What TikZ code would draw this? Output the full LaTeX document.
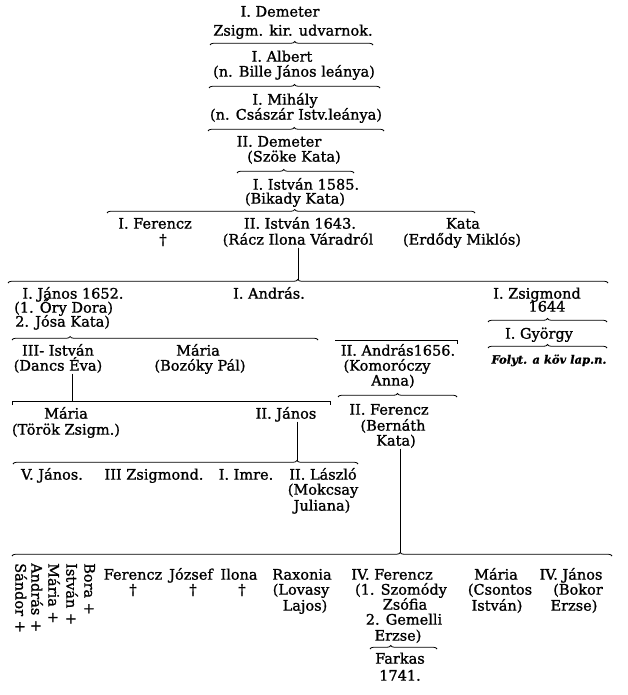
\documentclass[tikz,border=0pt]{standalone}
\usepackage{fontspec}
\setmainfont{DejaVu Serif}[FakeBold=1.2]
\usetikzlibrary{decorations.pathreplacing,calc}
\begin{document}
\begin{tikzpicture}[x=1pt,y=-1pt,
  every node/.style={inner sep=0pt, anchor=center, text height=10pt, text depth=2.7pt,
    font=\fontsize{14.5}{16}\selectfont},
  brc/.style={decorate, decoration={brace, amplitude=3.5pt, aspect=#1}, line width=0.8pt},
  ln/.style={line width=0.8pt},
  rot/.style={rotate=-90, anchor=west},
  note/.style={font=\fontsize{11.5}{13}\selectfont\bfseries\itshape}]
\useasboundingbox[fill=white] (0,0) rectangle (628,695);

% --- ancestors
\node (a1) at (280,13) {I. Demeter};
\node (a2) at (293,32) {Zsigm. kir. udvarnok.};
\coordinate (b1l) at (210,45); \coordinate (b1r) at (373,45);
\draw[brc=0.52] (b1l) -- (b1r);

\node (c1) at (282,58) {I. Albert};
\node (c2) at (294,73) {(n. Bille János leánya)};
\coordinate (b2l) at (209,88); \coordinate (b2r) at (380,88);
\draw[brc=0.50] (b2l) -- (b2r);

\node (d1) at (285,101) {I. Mihály};
\node (d2) at (296,116) {(n. Császár Istv.leánya)};
\coordinate (b3l) at (208,131); \coordinate (b3r) at (384,131);
\draw[brc=0.49] (b3l) -- (b3r);

\node (e1) at (279,143) {II. Demeter};
\node (e2) at (294,158) {(Szöke Kata)};
\coordinate (b4l) at (237,173); \coordinate (b4r) at (354,173);
\draw[brc=0.40] (b4l) -- (b4r);

\node (f1) at (306,186) {I. István 1585.};
\node (f2) at (295,200) {(Bikady Kata)};
\coordinate (b5l) at (107,213); \coordinate (b5r) at (475,213);
\draw[brc=0.51] (b5l) -- (b5r);

% --- children of I. István
\node (g1) at (155,225) {I. Ferencz};
\node (g2) at (163,241) {†};
\node (h1) at (300,225) {II. István 1643.};
\node (h2) at (298,241) {(Rácz Ilona Váradról};
\node (k1) at (463,225) {Kata};
\node (k2) at (462,241) {(Erdődy Miklós)};

\coordinate (b6l) at (8,283); \coordinate (b6r) at (608,283);
\coordinate (b6t) at (298,279.5);
\draw[ln] (h2.south) -- (b6t);
\draw[brc=0.483] (b6l) -- (b6r);

% --- children of II. István
\node (j1) at (73,295) {I. János 1652.};
\node[anchor=west] (j2) at (14,309) {(1. Őry Dora)};
\node[anchor=west] (j3) at (15,323) {2. Jósa Kata)};
\node (an1) at (269,295) {I. András.};
\node (z1) at (537,295) {I. Zsigmond};
\node (z2) at (547,308) {1644};
\coordinate (bzl) at (488,322); \coordinate (bzr) at (607,322);
\draw[brc=0.5] (bzl) -- (bzr);
\node (gy) at (539,335) {I. György};
\coordinate (bgl) at (488,348); \coordinate (bgr) at (607,348);
\draw[brc=0.5] (bgl) -- (bgr);
\node[note] (fo) at (549,360) {Folyt. a köv lap.n.};

% --- children of I. János
\coordinate (b7l) at (12,340); \coordinate (b7r) at (318,340);
\draw[brc=0.19] (b7l) -- (b7r);
\node (i1) at (58,352) {III- István};
\node (i2) at (58,367) {(Dancs Éva)};
\node (m1) at (198,352) {Mária};
\node (m2) at (200,367) {(Bozóky Pál)};

% --- II. András
\coordinate (lal) at (335,340); \coordinate (lar) at (457,340);
\draw[ln] (lal) -- (lar) -- ++(0,4);
\node (aa1) at (398,352) {II. András1656.};
\node (aa2) at (387,367) {(Komoróczy};
\node (aa3) at (393,382) {Anna)};
\coordinate (b8l) at (338,397); \coordinate (b8r) at (457,397);
\draw[brc=0.5] (b8l) -- (b8r);
\node (f21) at (389,411) {II. Ferencz};
\node (f22) at (393,427) {(Bernáth};
\node (f23) at (396,442) {Kata)};

% --- children of III. István
\coordinate (b9t) at (72,401);
\draw[ln] (i2.south -| b9t) -- (b9t);
\coordinate (b9l) at (12,401); \coordinate (b9r) at (330,401);
\draw[ln] ($(b9l)+(0,4)$) -- (b9l) -- (b9r) -- ++(0,4);
\node (mt1) at (66,415) {Mária};
\node (mt2) at (66,431) {(Török Zsigm.)};
\node (j21) at (286,415) {II. János};

% --- children of II. János
\coordinate (b10l) at (13,464); \coordinate (b10r) at (358,464);
\coordinate (b10t) at (297,460.5);
\draw[ln] (j21.south -| b10t) -- (b10t);
\draw[brc=0.823] (b10l) -- (b10r);
\node (v1) at (52,476) {V. János.};
\node (v2) at (154,476) {III Zsigmond.};
\node (v3) at (246,476) {I. Imre.};
\node (v4) at (323,476) {II. László};
\node (v5) at (323,491) {(Mokcsay};
\node (v6) at (322,507) {Juliana)};

% --- children of II. Ferencz
\coordinate (b11l) at (12,556); \coordinate (b11r) at (612,556);
\coordinate (b11t) at (400,552.5);
\draw[ln] (f23.south -| b11t) -- (b11t);
\draw[brc=0.647] (b11l) -- (b11r);

\node[rot] (r1) at (19,563) {Sándor +};
\node[rot] (r2) at (35,563) {András +};
\node[rot] (r3) at (52,563) {Mária +};
\node[rot] (r4) at (70,563) {István +};
\node[rot] (r5) at (88,563) {Bora +};

\node (s1) at (133,576) {Ferencz};
\node (s1d) at (133,591) {†};
\node (s2) at (191,576) {József};
\node (s2d) at (193,591) {†};
\node (s3) at (239,576) {Ilona};
\node (s3d) at (242,591) {†};
\node (s4) at (302,576) {Raxonia};
\node (s4b) at (301,591) {(Lovasy};
\node (s4c) at (305,607) {Lajos)};
\node (s5) at (392,576) {IV. Ferencz};
\node (s5b) at (401,591) {(1. Szomódy};
\node (s5c) at (405,606) {Zsófia};
\node (s5d) at (404,621) {2. Gemelli};
\node (s5e) at (398,637) {Erzse)};
\coordinate (b12l) at (370,649); \coordinate (b12r) at (437,649);
\draw[brc=0.31] (b12l) -- (b12r);
\node (fk1) at (400,660) {Farkas};
\node (fk2) at (400,677) {1741.};
\node (s6) at (496,576) {Mária};
\node (s6b) at (500,591) {(Csontos};
\node (s6c) at (497,607) {István)};
\node (s7) at (571,576) {IV. János};
\node (s7b) at (578,591) {(Bokor};
\node (s7c) at (574,607) {Erzse)};
\end{tikzpicture}
\end{document}
